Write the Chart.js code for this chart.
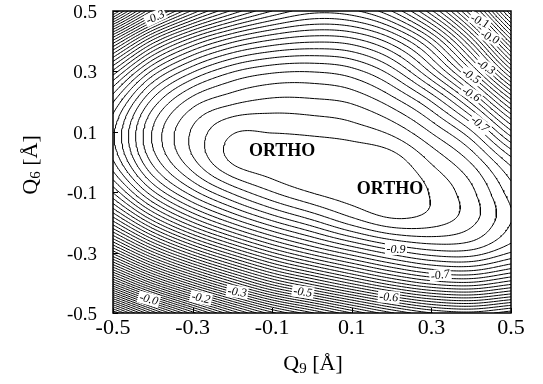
<!DOCTYPE html>
<html>
<head>
<meta charset="utf-8">
<script src="https://cdn.jsdelivr.net/npm/chart.js@4.4.0/dist/chart.umd.min.js"></script>
<style>
  html, body { margin: 0; padding: 0; background: #fff; }
  #wrap { width: 543px; height: 384px; }
</style>
</head>
<body>
<div id="wrap"><canvas id="chart" width="543" height="384"></canvas></div>
<script>
// ── Data ──

const q9Ticks = [-0.5, -0.3, -0.1, 0.1, 0.3, 0.5];
const q6Ticks = [-0.5, -0.3, -0.1, 0.1, 0.3, 0.5];

// grid nodes where the energy was estimated
const q9Grid = [-0.5, -0.4, -0.3, -0.2, -0.1, 0.0, 0.1, 0.2, 0.3, 0.4, 0.5];
const q6Grid = [-0.5, -0.4, -0.3, -0.2, -0.1, 0.0, 0.1, 0.2, 0.3, 0.4, 0.5];

// energy[j][i] at (q9Grid[i], q6Grid[j])
const energy = [
  [ 0.161,  0.015, -0.110, -0.221, -0.313, -0.377, -0.440, -0.497, -0.539, -0.553, -0.527],
  [-0.130, -0.266, -0.377, -0.472, -0.554, -0.612, -0.666, -0.714, -0.748, -0.757, -0.729],
  [-0.368, -0.495, -0.594, -0.673, -0.739, -0.790, -0.832, -0.868, -0.891, -0.892, -0.859],
  [-0.553, -0.671, -0.759, -0.824, -0.874, -0.912, -0.948, -0.972, -0.968, -0.945, -0.900],
  [-0.682, -0.795, -0.872, -0.924, -0.959, -0.981, -0.993, -0.998, -0.978, -0.945, -0.890],
  [-0.757, -0.865, -0.934, -0.982, -0.993, -0.999, -0.998, -0.991, -0.958, -0.918, -0.852],
  [-0.776, -0.882, -0.943, -0.978, -0.979, -0.976, -0.970, -0.955, -0.918, -0.863, -0.765],
  [-0.738, -0.847, -0.910, -0.935, -0.945, -0.944, -0.937, -0.910, -0.860, -0.775, -0.650],
  [-0.645, -0.765, -0.837, -0.878, -0.896, -0.899, -0.888, -0.850, -0.775, -0.665, -0.510],
  [-0.486, -0.628, -0.719, -0.775, -0.805, -0.817, -0.810, -0.770, -0.690, -0.555, -0.370],
  [-0.251, -0.425, -0.545, -0.625, -0.680, -0.712, -0.705, -0.660, -0.565, -0.420, -0.220],
];

const contourLevels = [
  -0.98, -0.96, -0.94, -0.92, -0.90, -0.88, -0.86, -0.84, -0.82, -0.80,
  -0.78, -0.76, -0.74, -0.72, -0.70, -0.68, -0.66, -0.64, -0.62, -0.60,
  -0.58, -0.56, -0.54, -0.52, -0.50, -0.48, -0.46, -0.44, -0.42, -0.40,
  -0.38, -0.36, -0.34, -0.32, -0.30, -0.28, -0.26, -0.24, -0.22, -0.20,
  -0.18, -0.16, -0.14, -0.12, -0.10, -0.08, -0.06, -0.04, -0.02, 0.00,
   0.02,  0.04,  0.06,  0.08,  0.10,  0.12,  0.14,  0.16
];

// contour labels as printed on the map
const labelText = ['-0.3', '-0.1', '-0.0', '-0.3', '-0.5', '-0.6', '-0.7',
                   '-0.9', '-0.7', '-0.6', '-0.5', '-0.3', '-0.2', '-0.0'];
const labelQ9 = [-0.394, 0.422, 0.447, 0.437, 0.400, 0.400, 0.422,
                 0.211, 0.322, 0.193, -0.023, -0.188, -0.279, -0.410];
const labelQ6 = [0.480, 0.467, 0.414, 0.315, 0.285, 0.225, 0.126,
                 -0.288, -0.374, -0.447, -0.430, -0.430, -0.450, -0.454];
const labelAngle = [-25, 25, 25, 32, 32, 30, 38, 0, -8, 4, 8, 8, 12, 15];

const orthoText = ['ORTHO', 'ORTHO'];
const orthoQ9 = [-0.075, 0.196];
const orthoQ6 = [0.036, -0.089];

// ── Surface sampling (Catmull-Rom between grid nodes) ──

const SUB = 16;

function node(i, j) {
  const nx = q9Grid.length, ny = q6Grid.length;
  if (i < 0) return 2 * node(0, j) - node(1, j);
  if (i > nx - 1) return 2 * node(nx - 1, j) - node(nx - 2, j);
  if (j < 0) return 2 * node(i, 0) - node(i, 1);
  if (j > ny - 1) return 2 * node(i, ny - 1) - node(i, ny - 2);
  return energy[j][i];
}

function cr(p0, p1, p2, p3, t) {
  return 0.5 * (2 * p1 + (p2 - p0) * t + (2 * p0 - 5 * p1 + 4 * p2 - p3) * t * t +
                (3 * p1 - p0 - 3 * p2 + p3) * t * t * t);
}

function surfaceAt(fi, fj) {
  const i = Math.min(Math.floor(fi), q9Grid.length - 2);
  const j = Math.min(Math.floor(fj), q6Grid.length - 2);
  const tx = fi - i, ty = fj - j;
  const r = [];
  for (let k = -1; k <= 2; k++) {
    r.push(cr(node(i - 1, j + k), node(i, j + k), node(i + 1, j + k), node(i + 2, j + k), tx));
  }
  return cr(r[0], r[1], r[2], r[3], ty);
}

const C = (q9Grid.length - 1) * SUB + 1;
const R = (q6Grid.length - 1) * SUB + 1;
const xs = [], ys = [], F = [];
for (let c = 0; c < C; c++) xs.push(q9Grid[0] + (q9Grid[q9Grid.length - 1] - q9Grid[0]) * c / (C - 1));
for (let r = 0; r < R; r++) ys.push(q6Grid[0] + (q6Grid[q6Grid.length - 1] - q6Grid[0]) * r / (R - 1));
for (let r = 0; r < R; r++) {
  const row = [];
  for (let c = 0; c < C; c++) row.push(surfaceAt(c / SUB, r / SUB));
  F.push(row);
}

// ── Marching squares → joined polylines ──

function contourChains(level) {
  const pos = new Map(), adj = new Map();
  const H = (r, c) => r * C + c;
  const V = (r, c) => R * C + r * C + c;
  function addPt(key, xa, ya, va, xb, yb, vb) {
    if (pos.has(key)) return;
    const t = (level - va) / (vb - va);
    pos.set(key, { x: xa + t * (xb - xa), y: ya + t * (yb - ya) });
  }
  function link(a, b) {
    if (!adj.has(a)) adj.set(a, []);
    if (!adj.has(b)) adj.set(b, []);
    adj.get(a).push(b);
    adj.get(b).push(a);
  }
  for (let r = 0; r < R - 1; r++) {
    for (let c = 0; c < C - 1; c++) {
      const v0 = F[r][c], v1 = F[r][c + 1], v2 = F[r + 1][c + 1], v3 = F[r + 1][c];
      const a0 = v0 > level, a1 = v1 > level, a2 = v2 > level, a3 = v3 > level;
      const e = [];
      if (a0 !== a1) { const k = H(r, c); addPt(k, xs[c], ys[r], v0, xs[c + 1], ys[r], v1); e.push(k); }
      if (a1 !== a2) { const k = V(r, c + 1); addPt(k, xs[c + 1], ys[r], v1, xs[c + 1], ys[r + 1], v2); e.push(k); }
      if (a3 !== a2) { const k = H(r + 1, c); addPt(k, xs[c], ys[r + 1], v3, xs[c + 1], ys[r + 1], v2); e.push(k); }
      if (a0 !== a3) { const k = V(r, c); addPt(k, xs[c], ys[r], v0, xs[c], ys[r + 1], v3); e.push(k); }
      if (e.length === 2) link(e[0], e[1]);
      else if (e.length === 4) {
        const centre = (v0 + v1 + v2 + v3) / 4 > level;
        if (centre === a0) { link(e[0], e[1]); link(e[2], e[3]); }
        else { link(e[0], e[3]); link(e[1], e[2]); }
      }
    }
  }
  const used = new Set(), chains = [];
  const walk = start => {
    const keys = [start];
    used.add(start);
    let cur = start;
    for (;;) {
      const nxt = adj.get(cur).find(k => !used.has(k));
      if (nxt === undefined) break;
      keys.push(nxt); used.add(nxt); cur = nxt;
    }
    if (keys.length > 2 && adj.get(cur).includes(start)) keys.push(start);
    return keys.map(k => pos.get(k));
  };
  for (const [k, n] of adj) if (n.length === 1 && !used.has(k)) chains.push(walk(k));
  for (const k of adj.keys()) if (!used.has(k)) chains.push(walk(k));
  return chains;
}

const datasets = [];
contourLevels.forEach(level => {
  contourChains(level).forEach(chain => {
    if (chain.length < 2) return;
    datasets.push({
      data: chain,
      borderColor: '#000',
      borderWidth: 1,
      pointRadius: 0,
      fill: false,
      tension: 0,
    });
  });
});

// ── Plugins: frame, contour labels, axis titles ──

const SERIF = '"Liberation Serif", "Times New Roman", serif';

const framePlugin = {
  id: 'frame',
  afterDatasetsDraw(chart) {
    const { ctx, chartArea: a, scales } = chart;
    ctx.save();
    ctx.strokeStyle = '#000';
    ctx.lineWidth = 1.5;
    ctx.strokeRect(a.left, a.top, a.right - a.left, a.bottom - a.top);
    ctx.lineWidth = 1;
    ctx.beginPath();
    q6Ticks.forEach(v => {
      const y = Math.round(scales.y.getPixelForValue(v)) + 0.5;
      ctx.moveTo(a.left, y); ctx.lineTo(a.left + 5, y);
    });
    q9Ticks.forEach(v => {
      const x = Math.round(scales.x.getPixelForValue(v)) + 0.5;
      ctx.moveTo(x, a.bottom); ctx.lineTo(x, a.bottom - 5);
    });
    ctx.stroke();
    ctx.restore();
  }
};

const labelPlugin = {
  id: 'contourLabels',
  afterDatasetsDraw(chart) {
    const { ctx, scales } = chart;
    ctx.save();
    ctx.font = 'italic 12px ' + SERIF;
    ctx.textAlign = 'center';
    ctx.textBaseline = 'middle';
    labelText.forEach((t, i) => {
      const px = scales.x.getPixelForValue(labelQ9[i]);
      const py = scales.y.getPixelForValue(labelQ6[i]);
      ctx.save();
      ctx.translate(px, py);
      ctx.rotate(labelAngle[i] * Math.PI / 180);
      const w = ctx.measureText(t).width + 3;
      ctx.fillStyle = '#fff';
      ctx.fillRect(-w / 2, -6, w, 12);
      ctx.fillStyle = '#000';
      ctx.fillText(t, 0, 0.5);
      ctx.restore();
    });
    ctx.font = 'bold 18px ' + SERIF;
    orthoText.forEach((t, i) => {
      ctx.fillText(t, scales.x.getPixelForValue(orthoQ9[i]), scales.y.getPixelForValue(orthoQ6[i]));
    });
    ctx.restore();
  }
};

function drawSubTitle(ctx, main, sub, rest, x, y) {
  ctx.font = '22px ' + SERIF;
  const w1 = ctx.measureText(main).width;
  const w3 = ctx.measureText(rest).width;
  ctx.font = '15px ' + SERIF;
  const w2 = ctx.measureText(sub).width;
  let cx = x - (w1 + w2 + w3) / 2;
  ctx.textAlign = 'left';
  ctx.textBaseline = 'alphabetic';
  ctx.font = '22px ' + SERIF;
  ctx.fillText(main, cx, y); cx += w1;
  ctx.font = '15px ' + SERIF;
  ctx.fillText(sub, cx, y + 3); cx += w2;
  ctx.font = '22px ' + SERIF;
  ctx.fillText(rest, cx, y);
}

const titlePlugin = {
  id: 'axisTitles',
  afterDraw(chart) {
    const { ctx } = chart;
    ctx.save();
    ctx.fillStyle = '#000';
    drawSubTitle(ctx, 'Q', '9', ' [Å]', 313, 370);
    ctx.translate(37, 165);
    ctx.rotate(-Math.PI / 2);
    drawSubTitle(ctx, 'Q', '6', ' [Å]', 0, 0);
    ctx.restore();
  }
};

// ── Chart ──

new Chart(document.getElementById('chart'), {
  type: 'line',
  data: { datasets },
  options: {
    responsive: false,
    animation: false,
    devicePixelRatio: 1,
    events: [],
    layout: { padding: { top: 11, right: 32, left: 0, bottom: 0 } },
    plugins: { legend: { display: false }, tooltip: { enabled: false } },
    scales: {
      x: {
        type: 'linear', min: -0.5, max: 0.5,
        grid: { display: false, drawTicks: false },
        border: { display: false },
        afterBuildTicks: s => { s.ticks = q9Ticks.map(v => ({ value: v })); },
        afterFit: s => { s.height = 71; s.paddingLeft = 0; s.paddingRight = 0; },
        ticks: {
          color: '#000', padding: 2, maxRotation: 0, autoSkip: false,
          font: { family: SERIF, size: 22 },
          callback: v => v.toFixed(1),
        },
      },
      y: {
        type: 'linear', min: -0.5, max: 0.5,
        grid: { display: false, drawTicks: false },
        border: { display: false },
        afterBuildTicks: s => { s.ticks = q6Ticks.map(v => ({ value: v })); },
        afterFit: s => { s.width = 113; s.paddingTop = 0; s.paddingBottom = 0; },
        ticks: {
          color: '#000', padding: 16, autoSkip: false, labelOffset: 2,
          font: { family: SERIF, size: 19 },
          callback: v => v.toFixed(1),
        },
      },
    },
  },
  plugins: [framePlugin, labelPlugin, titlePlugin],
});
</script>
</body>
</html>
